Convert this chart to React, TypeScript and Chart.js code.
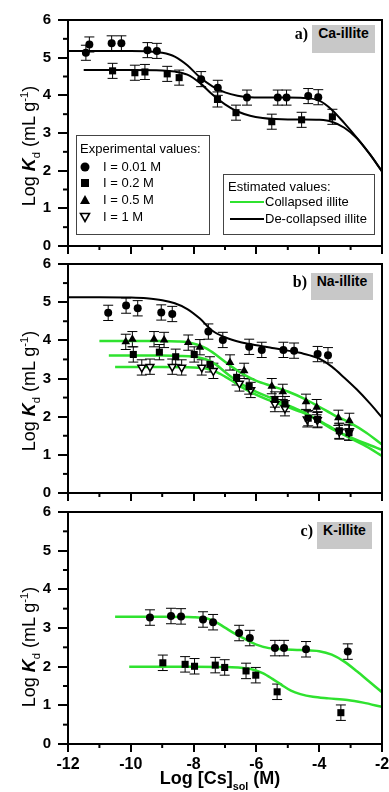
import React, { useEffect, useRef } from 'react';
import { Chart, registerables } from 'chart.js';

Chart.register(...registerables);

// ---------- data ----------
const X_MIN = -12;
const X_MAX = -2;
const X_TICKS = [-12, -10, -8, -6, -4, -2];
const X_TICK_LABELS = ['-12', '-10', '-8', '-6', '-4', '-2'];
const X_MINOR = [-11, -9, -7, -5, -3];
const Y_TICK_LABELS = ['0', '1', '2', '3', '4', '5', '6'];
const Y_MINOR = [0.5, 1.5, 2.5, 3.5, 4.5, 5.5];
const ERR = 0.2;

// a) Ca-illite
const aCirX = [-11.43, -11.32, -10.61, -10.3, -9.47, -9.17, -7.76, -7.23, -6.3, -5.32, -5.04, -4.35, -4.03];
const aCirY = [5.13, 5.35, 5.38, 5.38, 5.2, 5.18, 4.43, 4.2, 3.94, 3.94, 3.94, 3.98, 3.95];
const aSqX = [-10.58, -9.87, -9.55, -8.84, -8.46, -7.24, -6.65, -5.51, -4.56, -3.58];
const aSqY = [4.65, 4.6, 4.62, 4.57, 4.47, 3.89, 3.54, 3.3, 3.35, 3.43];
const aDecolHiX = [-12, -11, -10, -9.5, -9, -8.6, -8.2, -7.8, -7.4, -7.0, -6.6, -6.2, -5.5, -5.0, -4.5, -4.0, -3.6, -3.2, -2.8, -2.4, -2];
const aDecolHiY = [5.18, 5.18, 5.18, 5.17, 5.13, 5.03, 4.8, 4.48, 4.24, 4.08, 3.99, 3.95, 3.94, 3.94, 3.93, 3.86, 3.62, 3.26, 2.87, 2.45, 1.98];
const aDecolLoX = [-11.5, -11, -10, -9, -8.6, -8.2, -7.8, -7.4, -7.0, -6.6, -6.2, -5.8, -5.4, -5.0, -4.5, -4.0, -3.6, -3.2, -2.8, -2.4, -2];
const aDecolLoY = [4.67, 4.67, 4.67, 4.66, 4.63, 4.55, 4.33, 4.02, 3.76, 3.57, 3.46, 3.4, 3.37, 3.36, 3.36, 3.35, 3.3, 3.14, 2.86, 2.45, 1.98];

// b) Na-illite
const bCirX = [-10.72, -10.15, -9.78, -9.03, -8.68, -7.53, -7.07, -6.23, -5.83, -5.14, -4.8, -4.05, -3.72];
const bCirY = [4.72, 4.91, 4.84, 4.73, 4.69, 4.23, 4.01, 3.83, 3.75, 3.75, 3.73, 3.64, 3.61];
const bTriX = [-10.16, -9.95, -9.26, -8.94, -8.17, -7.8, -6.84, -6.39, -5.51, -5.16, -4.42, -4.08, -3.39, -3.04];
const bTriY = [3.96, 4.03, 4.03, 4.01, 3.94, 3.82, 3.42, 3.2, 2.8, 2.65, 2.39, 2.25, 1.97, 1.89];
const bSqX = [-9.92, -9.09, -8.57, -7.98, -7.48, -6.63, -6.23, -5.41, -5.09, -4.35, -4.05, -3.36, -3.05];
const bSqY = [3.63, 3.69, 3.57, 3.63, 3.37, 3.03, 2.79, 2.45, 2.33, 1.96, 1.93, 1.63, 1.58];
const bInvX = [-9.65, -9.39, -8.68, -8.38, -7.74, -7.37, -6.54, -6.18, -5.41, -5.09, -4.38, -4.06, -3.36, -3.05];
const bInvY = [3.29, 3.31, 3.31, 3.29, 3.29, 3.2, 2.87, 2.7, 2.33, 2.22, 1.93, 1.91, 1.61, 1.59];
const bDecolX = [-12, -11, -10, -9.5, -9, -8.6, -8.2, -7.8, -7.4, -7.0, -6.5, -6.0, -5.5, -5.0, -4.5, -4.0, -3.6, -3.2, -2.8, -2.4, -2];
const bDecolY = [5.13, 5.13, 5.12, 5.1, 5.05, 4.97, 4.82, 4.57, 4.25, 4.08, 3.95, 3.87, 3.8, 3.73, 3.65, 3.52, 3.31, 3.02, 2.71, 2.36, 1.98];
const bCol05X = [-11, -10, -9, -8.5, -8.2, -7.9, -7.6, -7.3, -7.0, -6.7, -6.4, -6.0, -5.5, -5.0, -4.5, -4.0, -3.5, -3.0, -2.5, -2];
const bCol05Y = [3.98, 3.98, 3.98, 3.97, 3.95, 3.89, 3.79, 3.63, 3.44, 3.26, 3.1, 2.94, 2.8, 2.66, 2.48, 2.26, 2.03, 1.83, 1.58, 1.27];
const bCol02X = [-10.7, -9, -8.5, -8.0, -7.6, -7.3, -7.0, -6.7, -6.4, -6.0, -5.5, -5.0, -4.5, -4.0, -3.5, -3.0, -2.5, -2];
const bCol02Y = [3.6, 3.6, 3.59, 3.57, 3.5, 3.37, 3.17, 2.98, 2.82, 2.65, 2.48, 2.3, 2.12, 1.88, 1.64, 1.46, 1.29, 1.13];
const bCol1X = [-10.5, -9, -8.0, -7.6, -7.3, -7.0, -6.7, -6.4, -6.0, -5.5, -5.0, -4.5, -4.0, -3.5, -3.0, -2.5, -2];
const bCol1Y = [3.3, 3.3, 3.29, 3.26, 3.18, 3.05, 2.9, 2.74, 2.57, 2.4, 2.25, 2.1, 1.9, 1.66, 1.43, 1.22, 0.97];

// c) K-illite
const cCirX = [-9.39, -8.72, -8.4, -7.7, -7.38, -6.55, -6.21, -5.41, -5.12, -4.42, -3.09];
const cCirY = [3.27, 3.31, 3.3, 3.22, 3.15, 2.87, 2.74, 2.48, 2.48, 2.45, 2.39];
const cSqX = [-8.98, -8.27, -7.97, -7.31, -7.01, -6.33, -6.02, -5.34, -3.31];
const cSqY = [2.1, 2.06, 2.01, 2.04, 1.98, 1.89, 1.78, 1.35, 0.81];
const cColHiX = [-10.5, -9, -8, -7.6, -7.3, -7.0, -6.7, -6.4, -6.0, -5.6, -5.2, -4.6, -4.0, -3.6, -3.2, -2.8, -2.4, -2];
const cColHiY = [3.29, 3.29, 3.28, 3.25, 3.16, 3.01, 2.86, 2.73, 2.57, 2.48, 2.45, 2.43, 2.4, 2.31, 2.13, 1.88, 1.61, 1.34];
const cColLoX = [-10.05, -8, -7, -6.5, -6.1, -5.8, -5.5, -5.2, -4.9, -4.6, -4.2, -3.7, -3.1, -2.6, -2];
const cColLoY = [2.0, 2.0, 1.99, 1.97, 1.92, 1.83, 1.69, 1.53, 1.38, 1.29, 1.22, 1.18, 1.14, 1.07, 0.96];

// ---------- helpers ----------
const GREEN = '#2fe22f';
const FONT = "'Liberation Sans', Arial, Helvetica, sans-serif";
const CANVAS_W = 400;
const AREA_RIGHT = 382;
const AREA_LEFT = 68;

const pts = (xs: number[], ys: number[]) => xs.map((x, i) => ({ x, y: ys[i] }));

const circle = (xs: number[], ys: number[]) => ({
  data: pts(xs, ys), pointStyle: 'circle', pointRadius: 4, backgroundColor: '#000', borderColor: '#000', borderWidth: 0, errorBars: true, order: 0,
});
const square = (xs: number[], ys: number[]) => ({
  data: pts(xs, ys), pointStyle: 'rect', pointRadius: 5, backgroundColor: '#000', borderColor: '#000', borderWidth: 0, errorBars: true, order: 0,
});
const triUp = (xs: number[], ys: number[]) => ({
  data: pts(xs, ys), pointStyle: 'triangle', pointRadius: 5, backgroundColor: '#000', borderColor: '#000', borderWidth: 0, errorBars: true, order: 0,
});
const triDownOpen = (xs: number[], ys: number[]) => ({
  data: pts(xs, ys), pointStyle: 'triangle', rotation: 180, pointRadius: 4.5, backgroundColor: '#fff', borderColor: '#000', borderWidth: 1.5, errorBars: true, order: 0,
});
const curve = (xs: number[], ys: number[], color: string, width: number) => ({
  data: pts(xs, ys), showLine: true, pointRadius: 0, borderColor: color, borderWidth: width, cubicInterpolationMode: 'monotone', fill: false, order: 1,
});

const framePlugin = {
  id: 'frameAndErrors',
  beforeDatasetsDraw(chart: any) {
    const { ctx, scales } = chart;
    const x = scales.x, y = scales.y;
    ctx.save();
    ctx.strokeStyle = '#000';
    ctx.lineWidth = 1;
    chart.data.datasets.forEach((ds: any) => {
      if (!ds.errorBars) return;
      ds.data.forEach((p: any) => {
        const px = x.getPixelForValue(p.x);
        const t = y.getPixelForValue(p.y + ERR);
        const b = y.getPixelForValue(p.y - ERR);
        ctx.beginPath();
        ctx.moveTo(px, t); ctx.lineTo(px, b);
        ctx.moveTo(px - 5, t); ctx.lineTo(px + 5, t);
        ctx.moveTo(px - 5, b); ctx.lineTo(px + 5, b);
        ctx.stroke();
      });
    });
    ctx.restore();
  },
  afterDraw(chart: any) {
    const { ctx, chartArea: ca, scales } = chart;
    const x = scales.x, y = scales.y;
    ctx.save();
    ctx.strokeStyle = '#000';
    ctx.lineWidth = 2;
    ctx.strokeRect(ca.left, ca.top, ca.right - ca.left, ca.bottom - ca.top);
    X_MINOR.forEach((v) => {
      const px = x.getPixelForValue(v);
      ctx.beginPath(); ctx.moveTo(px, ca.bottom); ctx.lineTo(px, ca.bottom + 4); ctx.stroke();
    });
    Y_MINOR.forEach((v) => {
      const py = y.getPixelForValue(v);
      ctx.beginPath(); ctx.moveTo(ca.left - 5, py); ctx.lineTo(ca.left, py); ctx.stroke();
    });
    ctx.restore();
  },
};

type Panel = { top: number; height: number; padTop: number; xAxisH: number; showX: boolean; datasets: any[] };

const PANELS: Panel[] = [
  {
    top: 0, height: 266, padTop: 20, xAxisH: 20, showX: false,
    datasets: [
      circle(aCirX, aCirY), square(aSqX, aSqY),
      curve(aDecolHiX, aDecolHiY, '#000', 2), curve(aDecolLoX, aDecolLoY, '#000', 2),
    ],
  },
  {
    top: 244, height: 269, padTop: 20, xAxisH: 20, showX: false,
    datasets: [
      circle(bCirX, bCirY), triUp(bTriX, bTriY), square(bSqX, bSqY), triDownOpen(bInvX, bInvY),
      curve(bDecolX, bDecolY, '#000', 2), curve(bCol05X, bCol05Y, GREEN, 2.5),
      curve(bCol02X, bCol02Y, GREEN, 2.5), curve(bCol1X, bCol1Y, GREEN, 2.5),
    ],
  },
  {
    top: 492, height: 300, padTop: 20, xAxisH: 48, showX: true,
    datasets: [
      circle(cCirX, cCirY), square(cSqX, cSqY),
      curve(cColHiX, cColHiY, GREEN, 2.5), curve(cColLoX, cColLoY, GREEN, 2.5),
    ],
  },
];

function buildChart(canvas: HTMLCanvasElement, p: Panel) {
  return new Chart(canvas, {
    type: 'scatter',
    data: { datasets: p.datasets },
    options: {
      animation: false,
      responsive: false,
      events: [],
      layout: { padding: { top: p.padTop, right: CANVAS_W - AREA_RIGHT, left: 0, bottom: 0 } },
      plugins: { legend: { display: false }, tooltip: { enabled: false } },
      scales: {
        x: {
          type: 'linear', min: X_MIN, max: X_MAX,
          afterFit: (s: any) => { s.height = p.xAxisH; },
          afterBuildTicks: (s: any) => { s.ticks = X_TICKS.map((v) => ({ value: v })); },
          ticks: {
            display: p.showX, color: '#000', padding: 3, maxRotation: 0, autoSkip: false,
            font: { family: FONT, size: 16, weight: 'bold' },
            callback: (v: any) => X_TICK_LABELS[X_TICKS.indexOf(Number(v))] ?? '',
          },
          grid: { display: true, drawOnChartArea: false, drawTicks: true, tickLength: 8, color: '#000', lineWidth: 2 },
          border: { display: true, color: '#000', width: 2 },
        },
        y: {
          type: 'linear', min: 0, max: 6,
          afterFit: (s: any) => { s.width = AREA_LEFT; },
          ticks: {
            stepSize: 1, color: '#000', padding: 7,
            font: { family: FONT, size: 15, weight: 'bold', lineHeight: 1 },
            callback: (v: any) => Y_TICK_LABELS[Math.round(Number(v))] ?? '',
          },
          grid: { display: true, drawOnChartArea: false, drawTicks: true, tickLength: 10, color: '#000', lineWidth: 2 },
          border: { display: true, color: '#000', width: 2 },
        },
      },
    } as any,
    plugins: [framePlugin as any],
  });
}

const abs = (s: React.CSSProperties): React.CSSProperties => ({ position: 'absolute', ...s });

function YTitle({ cy }: { cy: number }) {
  return (
    <div style={abs({ left: 30 - 90, top: cy - 11, width: 180, height: 22, lineHeight: '22px', textAlign: 'center', transform: 'rotate(-90deg)', font: `18px ${FONT}`, whiteSpace: 'nowrap', color: '#000' })}>
      Log <b><i>K</i></b><span style={{ fontSize: '0.62em', position: 'relative', top: '0.45em' }}>d</span> (mL g<span style={{ fontSize: '0.62em', position: 'relative', top: '-0.6em' }}>-1</span>)
    </div>
  );
}

function PanelLabel({ letter, name, boxLeft, boxTop, boxW, boxH }: { letter: string; name: string; boxLeft: number; boxTop: number; boxW: number; boxH: number }) {
  return (
    <>
      <div style={abs({ left: boxLeft - 44, top: boxTop, width: 40, height: boxH, lineHeight: `${boxH}px`, textAlign: 'right', font: `bold 16px 'Liberation Serif', 'Times New Roman', serif`, color: '#000' })}>{letter}</div>
      <div style={abs({ left: boxLeft, top: boxTop, width: boxW, height: boxH, lineHeight: `${boxH}px`, textAlign: 'center', background: '#c8c8c8', font: `bold 14px ${FONT}`, color: '#000' })}>{name}</div>
    </>
  );
}

function Marker({ kind }: { kind: string }) {
  return (
    <svg width="12" height="12" viewBox="-6 -6 12 12" style={{ display: 'block' }}>
      {kind === 'circle' && <circle cx="0" cy="0" r="4.5" fill="#000" />}
      {kind === 'square' && <rect x="-4" y="-4" width="8" height="8" fill="#000" />}
      {kind === 'up' && <polygon points="0,-5 5,4 -5,4" fill="#000" />}
      {kind === 'down' && <polygon points="-4.5,-3.5 4.5,-3.5 0,4.5" fill="#fff" stroke="#000" strokeWidth="1.6" />}
    </svg>
  );
}

const EXP_ITEMS = [
  { kind: 'circle', label: 'I = 0.01 M' },
  { kind: 'square', label: 'I = 0.2 M' },
  { kind: 'up', label: 'I = 0.5 M' },
  { kind: 'down', label: 'I = 1 M' },
];
const EST_ITEMS = [
  { color: GREEN, label: 'Collapsed illite' },
  { color: '#000', label: 'De-collapsed illite' },
];

export default function App() {
  const r0 = useRef<HTMLCanvasElement>(null);
  const r1 = useRef<HTMLCanvasElement>(null);
  const r2 = useRef<HTMLCanvasElement>(null);
  const refs = [r0, r1, r2];

  useEffect(() => {
    const charts = PANELS.map((p, i) => buildChart(refs[i].current as HTMLCanvasElement, p));
    return () => charts.forEach((c) => c.destroy());
  }, []);

  return (
    <div style={abs({ left: 0, top: 0, width: 389, height: 792, overflow: 'hidden', background: '#fff' })}>
      {PANELS.map((p, i) => (
        <canvas key={i} ref={refs[i]} width={CANVAS_W} height={p.height}
          style={abs({ left: 0, top: p.top, width: CANVAS_W, height: p.height })} />
      ))}

      <YTitle cy={146} />
      <YTitle cy={391} />
      <YTitle cy={647} />

      <PanelLabel letter="a)" name="Ca-illite" boxLeft={312} boxTop={25} boxW={63} boxH={28} />
      <PanelLabel letter="b)" name="Na-illite" boxLeft={311} boxTop={273} boxW={62} boxH={27} />
      <PanelLabel letter="c)" name="K-illite" boxLeft={317} boxTop={522} boxW={55} boxH={27} />

      {/* Experimental legend */}
      <div style={abs({ left: 76, top: 135, width: 134, height: 100, border: '1px solid #444', boxSizing: 'border-box', font: `13px ${FONT}`, color: '#000' })}>
        <div style={abs({ left: 3, top: 5, lineHeight: '16px', whiteSpace: 'nowrap' })}>Experimental values:</div>
        {EXP_ITEMS.map((it, i) => (
          <React.Fragment key={i}>
            <div style={abs({ left: 2, top: [31, 47, 64, 81][i] - 6 })}><Marker kind={it.kind} /></div>
            <div style={abs({ left: 26, top: [31, 47, 64, 81][i] - 8, lineHeight: '16px', whiteSpace: 'nowrap' })}>{it.label}</div>
          </React.Fragment>
        ))}
      </div>

      {/* Estimated legend */}
      <div style={abs({ left: 223, top: 174, width: 152, height: 61, border: '1px solid #444', boxSizing: 'border-box', font: `13px ${FONT}`, color: '#000' })}>
        <div style={abs({ left: 4, top: 4, lineHeight: '16px', whiteSpace: 'nowrap' })}>Estimated values:</div>
        {EST_ITEMS.map((it, i) => (
          <React.Fragment key={i}>
            <div style={abs({ left: 6, top: [27, 44][i] - 1, width: 34, height: 2, background: it.color })} />
            <div style={abs({ left: 41, top: [27, 44][i] - 8, lineHeight: '16px', whiteSpace: 'nowrap' })}>{it.label}</div>
          </React.Fragment>
        ))}
      </div>

      {/* X axis title */}
      <div style={abs({ left: 100, top: 768, width: 240, lineHeight: '22px', textAlign: 'center', font: `bold 18px ${FONT}`, whiteSpace: 'nowrap', color: '#000' })}>
        Log [Cs]<span style={{ fontSize: '0.6em', position: 'relative', top: '0.6em' }}>sol</span> (M)
      </div>
    </div>
  );
}
